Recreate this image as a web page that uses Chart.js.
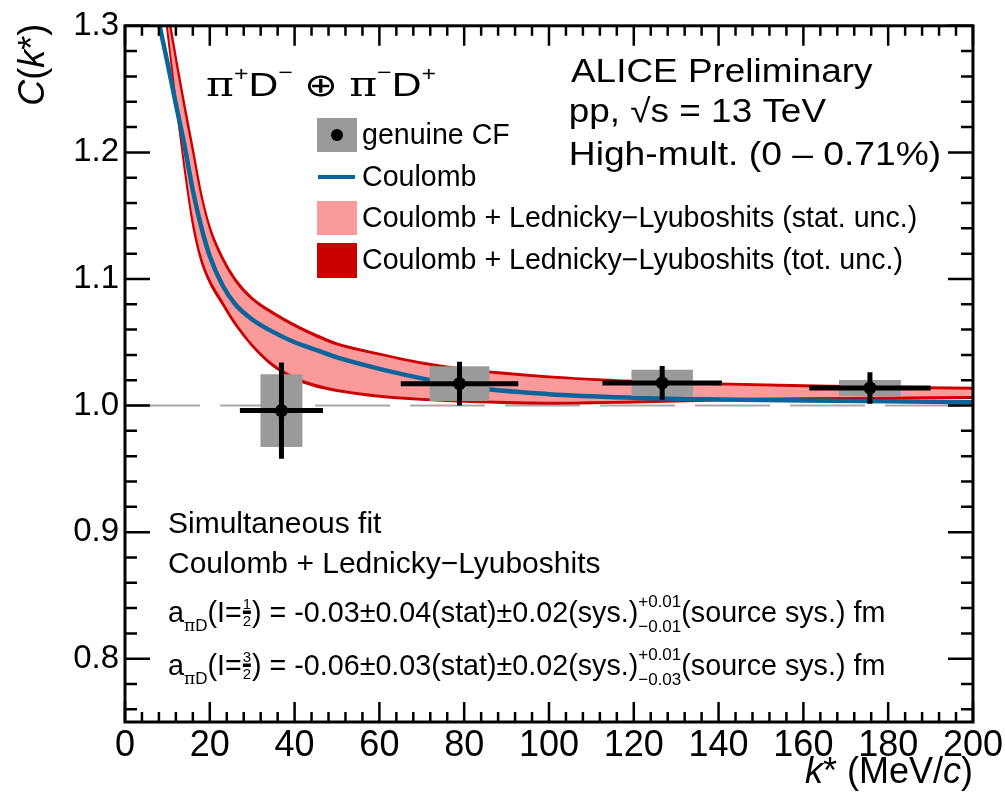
<!DOCTYPE html>
<html>
<head>
<meta charset="utf-8">
<script src="https://cdn.jsdelivr.net/npm/chart.js@4/dist/chart.umd.min.js"></script>
<style>
  html, body { margin: 0; padding: 0; background: #ffffff; }
  #c { display: block; }
</style>
</head>
<body>
<canvas id="c" width="1005" height="797"></canvas>
<script>
// ---- model curves (k* in MeV/c, C(k*)) ----
const kGrid    = [6, 8, 10, 12, 14, 16, 18, 20, 23, 26, 30, 35, 40, 45, 50, 60, 70, 80, 100, 120, 140, 160, 180, 200];
const coulomb  = [1.338, 1.303, 1.271, 1.238, 1.206, 1.170, 1.141, 1.118, 1.095, 1.080, 1.068, 1.058, 1.050, 1.044, 1.038, 1.029, 1.0215, 1.015, 1.009, 1.0062, 1.0048, 1.004, 1.0033, 1.0027];
const totHigh  = [1.400, 1.355, 1.314, 1.275, 1.238, 1.203, 1.167, 1.141, 1.117, 1.100, 1.085, 1.0735, 1.064, 1.056, 1.049, 1.041, 1.034, 1.029, 1.023, 1.0195, 1.0175, 1.016, 1.015, 1.014];
const totLow   = [1.380, 1.345, 1.296, 1.240, 1.188, 1.143, 1.114, 1.097, 1.080, 1.064, 1.047, 1.031, 1.021, 1.015, 1.0115, 1.007, 1.0045, 1.003, 1.0015, 1.0025, 1.004, 1.005, 1.0055, 1.006];
const statHigh = [1.394, 1.349, 1.308, 1.269, 1.232, 1.197, 1.1625, 1.1375, 1.114, 1.0975, 1.083, 1.0715, 1.062, 1.054, 1.0475, 1.0395, 1.0325, 1.0275, 1.0215, 1.018, 1.016, 1.0145, 1.0135, 1.0125];
const statLow  = [1.386, 1.351, 1.302, 1.246, 1.194, 1.149, 1.1185, 1.1005, 1.083, 1.0665, 1.049, 1.033, 1.023, 1.017, 1.013, 1.0085, 1.006, 1.0045, 1.003, 1.004, 1.0055, 1.0065, 1.007, 1.0075];

// ---- measured genuine correlation function ----
const ptK       = [36.9, 78.9, 126.7, 175.7];
const ptC       = [0.996, 1.0173, 1.0179, 1.0139];
const ptStat    = [0.038, 0.0173, 0.0134, 0.0125];
const ptKHalf   = [9.8, 13.85, 14.1, 14.3];
const ptSys     = [0.0287, 0.0137, 0.0104, 0.0063];
const ptSysHalf = [4.95, 7.05, 7.25, 7.3];

// ---- axes ----
const xTicks = [0, 20, 40, 60, 80, 100, 120, 140, 160, 180, 200];
const xTickLabels = ['0', '20', '40', '60', '80', '100', '120', '140', '160', '180', '200'];
const yTicks = [0.8, 0.9, 1.0, 1.1, 1.2, 1.3];
const yTickLabels = ['0.8', '0.9', '1.0', '1.1', '1.2', '1.3'];
const baselineLevel = [1.0, 1.0];
const baselineK = [0, 200];

const legendLabels = ['genuine CF', 'Coulomb',
  'Coulomb + Lednicky\u2212Lyuboshits (stat. unc.)',
  'Coulomb + Lednicky\u2212Lyuboshits (tot. unc.)'];

const SANS = '"Liberation Sans", Arial, Helvetica, sans-serif';
const SERIF = '"DejaVu Serif", "Liberation Serif", serif';
const SYM = '"DejaVu Sans", sans-serif';

const BLUE = '#0b659a';
const PINK = '#fa9a9a';
const RED = '#cc0000';
const GREY = '#9a9a9a';

const pts = (xs, ys) => xs.map((v, i) => ({ x: v, y: ys[i] }));

// draws a run of text pieces left to right on a common baseline
function rich(ctx, x, y, parts, dryRun) {
  let cx = x;
  for (const p of parts) {
    const size = p.s;
    if (p.frac) {
      ctx.font = `${size}px ${SANS}`;
      const w = Math.max(ctx.measureText(p.frac[0]).width, ctx.measureText(p.frac[1]).width);
      if (!dryRun) {
        ctx.textAlign = 'center';
        ctx.fillText(p.frac[0], cx + w / 2 + 1, y - 13);
        ctx.fillText(p.frac[1], cx + w / 2 + 1, y + 4);
        ctx.fillRect(cx + w / 2 + 1 - 4, y - 11.5, 8, 3.5);
        ctx.textAlign = 'left';
      }
      cx += w + 2;
      continue;
    }
    if (p.stack) {
      ctx.font = `${size}px ${SANS}`;
      const w = Math.max(ctx.measureText(p.stack[0]).width, ctx.measureText(p.stack[1]).width);
      if (!dryRun) {
        ctx.fillText(p.stack[0], cx, y + p.up);
        ctx.fillText(p.stack[1], cx, y + p.down);
      }
      cx += w;
      continue;
    }
    ctx.font = `${p.it ? 'italic ' : ''}${size}px ${p.f || SANS}`;
    if (!dryRun) ctx.fillText(p.t, cx, y + (p.dy || 0));
    cx += ctx.measureText(p.t).width;
  }
  return cx;
}

// single line of text whose ink runs from left to right
function fitText(ctx, t, size, left, right, base) {
  ctx.font = `${size}px ${SANS}`;
  const m = ctx.measureText(t);
  const ink = m.actualBoundingBoxLeft + m.actualBoundingBoxRight;
  ctx.save();
  ctx.translate(left, base);
  ctx.scale((right - left) / ink, 1);
  ctx.fillText(t, m.actualBoundingBoxLeft, 0);
  ctx.restore();
}

const decor = {
  id: 'decor',
  beforeDatasetDraw(chart, args) {
    if (args.index !== 0) return;
    const { ctx, chartArea: a, scales: { x, y } } = chart;
    ctx.save();
    ctx.beginPath();
    ctx.rect(a.left, a.top, a.right - a.left, a.bottom - a.top);
    ctx.clip();
    // systematic boxes
    ctx.fillStyle = GREY;
    ptK.forEach((k, i) => {
      const l = x.getPixelForValue(k - ptSysHalf[i]);
      const r = x.getPixelForValue(k + ptSysHalf[i]);
      const t = y.getPixelForValue(ptC[i] + ptSys[i]);
      const b = y.getPixelForValue(ptC[i] - ptSys[i]);
      ctx.fillRect(l, t, r - l, b - t);
    });
    // statistical bars and bin widths
    ctx.strokeStyle = '#000';
    ctx.lineWidth = 5;
    ctx.lineCap = 'butt';
    ptK.forEach((k, i) => {
      const cx = x.getPixelForValue(k), cy = y.getPixelForValue(ptC[i]);
      ctx.beginPath();
      ctx.moveTo(x.getPixelForValue(k - ptKHalf[i]), cy);
      ctx.lineTo(x.getPixelForValue(k + ptKHalf[i]), cy);
      ctx.moveTo(cx, y.getPixelForValue(ptC[i] + ptStat[i]));
      ctx.lineTo(cx, y.getPixelForValue(ptC[i] - ptStat[i]));
      ctx.stroke();
    });
    ctx.restore();
  },
  afterDraw(chart) {
    const { ctx, chartArea: a, scales: { x, y } } = chart;
    ctx.save();
    ctx.fillStyle = '#000';
    ctx.strokeStyle = '#000';

    // frame
    ctx.lineWidth = 3;
    ctx.strokeRect(a.left, a.top, a.right - a.left, a.bottom - a.top);

    // inward ticks on all four sides
    ctx.lineWidth = 2.5;
    ctx.beginPath();
    for (let v = 0; v <= 200.001; v += 4) {
      const px = x.getPixelForValue(v);
      const major = Math.abs(v / 20 - Math.round(v / 20)) < 1e-6;
      const len = major ? 20 : 10;
      ctx.moveTo(px, a.bottom); ctx.lineTo(px, a.bottom - len);
      ctx.moveTo(px, a.top); ctx.lineTo(px, a.top + len);
    }
    for (let n = 0; n <= 27; n++) {
      const v = 0.76 + n * 0.02;
      const py = y.getPixelForValue(v);
      const major = n % 5 === 2;
      const len = major ? 25 : 12;
      ctx.moveTo(a.left, py); ctx.lineTo(a.left + len, py);
      ctx.moveTo(a.right, py); ctx.lineTo(a.right - len, py);
    }
    ctx.stroke();

    ctx.textBaseline = 'alphabetic';
    ctx.textAlign = 'left';

    // x axis title, right aligned at the axis end
    const xt = [{ t: 'k', s: 36, it: true }, { t: '* (MeV/', s: 36 }, { t: 'c', s: 36, it: true }, { t: ')', s: 36 }];
    const xw = rich(ctx, 0, 0, xt, true);
    rich(ctx, a.right - xw, 783, xt);

    // y axis title, rotated, ending at the top of the frame
    const yt = [{ t: 'C', s: 36, it: true }, { t: '(', s: 36 }, { t: 'k', s: 36, it: true }, { t: '*)', s: 36 }];
    const yw = rich(ctx, 0, 0, yt, true);
    ctx.save();
    ctx.translate(44, a.top - 2);
    ctx.rotate(-Math.PI / 2);
    rich(ctx, -yw, 0, yt);
    ctx.restore();

    // pair label (slightly wide lettering)
    const pair = [
      { t: '\u03c0', s: 34, f: SERIF }, { t: '+', s: 20, dy: -15 }, { t: 'D', s: 33 }, { t: '\u2212', s: 20, dy: -17 },
      { t: ' ', s: 33 }, { t: '\u2295', s: 32, f: SYM }, { t: ' ', s: 33 },
      { t: '\u03c0', s: 34, f: SERIF }, { t: '\u2212', s: 20, dy: -17 }, { t: 'D', s: 33 }, { t: '+', s: 20, dy: -15 }
    ];
    const pw = rich(ctx, 0, 0, pair, true);
    ctx.save();
    ctx.translate(206, 96);
    ctx.scale(230 / pw, 1);
    rich(ctx, 0, 0, pair);
    ctx.restore();

    // collaboration / system block
    fitText(ctx, 'ALICE Preliminary', 33, 571, 873, 82);
    fitText(ctx, 'pp, \u221as = 13 TeV', 33, 571, 826, 122);
    fitText(ctx, 'High-mult. (0 \u2013 0.71%)', 33, 571, 939, 165);

    // legend
    const lx0 = 317, lx1 = 357, rows = [135, 177, 218, 260];
    ctx.fillStyle = GREY;
    ctx.fillRect(lx0, rows[0] - 17, lx1 - lx0, 34);
    ctx.fillStyle = '#000';
    ctx.beginPath(); ctx.arc((lx0 + lx1) / 2, rows[0], 6, 0, Math.PI * 2); ctx.fill();
    ctx.strokeStyle = BLUE; ctx.lineWidth = 4;
    ctx.beginPath(); ctx.moveTo(lx0 + 1, rows[1]); ctx.lineTo(lx1 - 2, rows[1]); ctx.stroke();
    ctx.fillStyle = PINK; ctx.fillRect(lx0, rows[2] - 17, lx1 - lx0, 34);
    ctx.fillStyle = RED; ctx.fillRect(lx0, rows[3] - 17, lx1 - lx0, 35);
    ctx.fillStyle = '#000';
    ctx.font = `28.6px ${SANS}`;
    ctx.textBaseline = 'middle';
    legendLabels.forEach((t, i) => ctx.fillText(t, 362, rows[i] + 1));
    ctx.textBaseline = 'alphabetic';

    // fit summary
    ctx.font = `30px ${SANS}`;
    ctx.fillText('Simultaneous fit', 168, 533);
    ctx.fillText('Coulomb + Lednicky\u2212Lyuboshits', 168, 573);
    const F = 28.7, S = 17;
    const line = (base, num, val, st, lo) => rich(ctx, 168, base, [
      { t: 'a', s: F }, { t: '\u03c0', s: S, f: SERIF, dy: 9 }, { t: 'D', s: S, dy: 9 },
      { t: '(I=', s: F }, { frac: [num, '2'], s: 15 },
      { t: ') = ' + val + '\u00b1' + st + '(stat)\u00b10.02(sys.)', s: F },
      { stack: ['+0.01', lo], s: S, up: -15, down: 10 },
      { t: '(source sys.) fm', s: F }
    ]);
    line(622, '1', '-0.03', '0.04', '\u22120.01');
    line(675, '3', '-0.06', '0.03', '\u22120.03');

    ctx.restore();
  }
};

const tickFontX = { family: SANS, size: 36 };
const tickFontY = { family: SANS, size: 33 };

new Chart(document.getElementById('c'), {
  type: 'line',
  data: {
    datasets: [
      { label: legendLabels[0], data: pts(ptK, ptC), showLine: false, pointRadius: 6.5, pointHoverRadius: 6.5,
        pointBackgroundColor: '#000', pointBorderWidth: 0, order: 0 },
      { label: legendLabels[1], data: pts(kGrid, coulomb), borderColor: BLUE, borderWidth: 4.5, pointRadius: 0,
        cubicInterpolationMode: 'monotone', fill: false, order: 1 },
      { label: legendLabels[2], data: pts(kGrid, statHigh), borderWidth: 0, borderColor: 'rgba(0,0,0,0)', pointRadius: 0,
        cubicInterpolationMode: 'monotone', backgroundColor: PINK, fill: '+1', order: 2 },
      { label: 'stat low', data: pts(kGrid, statLow), borderWidth: 0, borderColor: 'rgba(0,0,0,0)', pointRadius: 0,
        cubicInterpolationMode: 'monotone', fill: false, order: 3 },
      { label: legendLabels[3], data: pts(kGrid, totHigh), borderWidth: 2, borderColor: RED, pointRadius: 0,
        cubicInterpolationMode: 'monotone', backgroundColor: RED, fill: '+1', order: 4 },
      { label: 'tot low', data: pts(kGrid, totLow), borderWidth: 2, borderColor: RED, pointRadius: 0,
        cubicInterpolationMode: 'monotone', fill: false, order: 5 },
      { label: 'unity', data: pts(baselineK, baselineLevel), borderColor: '#a8a8a8', borderWidth: 2, borderDash: [75, 20],
        pointRadius: 0, fill: false, order: 6 }
    ]
  },
  options: {
    responsive: false,
    animation: false,
    devicePixelRatio: 1,
    layout: { padding: { left: 0, right: 31, top: 20, bottom: 0 } },
    plugins: { legend: { display: false }, tooltip: { enabled: false } },
    events: [],
    scales: {
      x: {
        type: 'linear', min: 0, max: 200,
        grid: { display: false, drawTicks: false }, border: { display: false },
        afterBuildTicks: s => { s.ticks = xTicks.map(v => ({ value: v })); },
        afterFit: s => { s.height = 75; },
        ticks: { autoSkip: false, maxRotation: 0, minRotation: 0, padding: 2, color: '#000', font: tickFontX,
                 callback: (v, i) => xTickLabels[i] }
      },
      y: {
        type: 'linear', min: 0.75, max: 1.3,
        grid: { display: false, drawTicks: false }, border: { display: false },
        afterBuildTicks: s => { s.ticks = yTicks.map(v => ({ value: v })); },
        afterFit: s => { s.width = 125; },
        ticks: { autoSkip: false, padding: 6, color: '#000', font: tickFontY,
                 callback: (v, i) => yTickLabels[i] }
      }
    }
  },
  plugins: [decor]
});
</script>
</body>
</html>
